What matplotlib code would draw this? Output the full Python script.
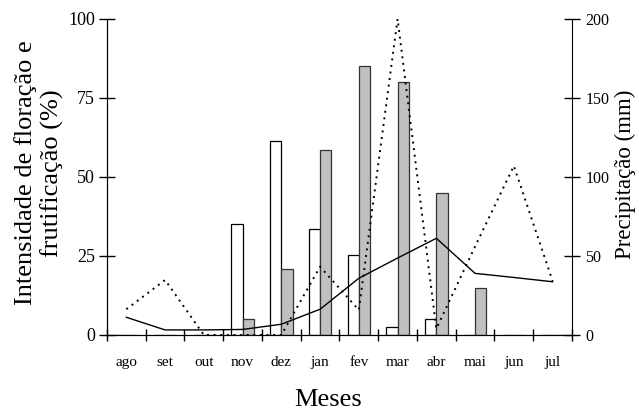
import numpy as np
import matplotlib.pyplot as plt

plt.rcParams['font.family'] = ['Liberation Serif', 'DejaVu Serif']

meses = ['ago', 'set', 'out', 'nov', 'dez', 'jan', 'fev', 'mar', 'abr', 'mai', 'jun', 'jul']
floracao = [0, 0, 0, 35, 61.5, 33.6, 25.2, 2.6, 5, 0, 0, 0]
frutificacao = [0, 0, 0, 5, 21, 58.7, 85.2, 80, 45, 15, 0, 0]
precip_linha = [11.2, 3.2, 3.2, 3.5, 6.8, 16.3, 35.9, 48.7, 61.2, 39, 36.4, 33.7]
precip_pontos = [16.3, 34.8, 0, 0, 0, 43.2, 15.8, 200, 4, 56, 107, 34.2]

fig = plt.figure(figsize=(6.39, 4.13), dpi=100, facecolor='w')
ax = fig.add_axes([0.1674, 0.1889, 0.7277, 0.7651])
ax2 = ax.twinx()

x = np.arange(len(meses)) + 0.5
w = 0.29
ax.bar(x - 0.145, floracao, w, color='white', edgecolor='black', lw=0.9)
ax.bar(x + 0.145, frutificacao, w, color='#c0c0c0', edgecolor='#333333', lw=0.9)

ax2.plot(x, precip_linha, color='black', lw=1)
ax2.plot(x, precip_pontos, color='black', lw=1.4, ls=(0, (1, 2.4)))

ax.set_xlim(0, 12)
ax.set_ylim(0, 100)
ax2.set_ylim(0, 200)
ax.set_yticks([0, 25, 50, 75, 100])
ax2.set_yticks([0, 50, 100, 150, 200])

ax.set_xticks(np.arange(0, 13))
ax.set_xticklabels([])
ax.set_xticks(x, minor=True)
ax.set_xticklabels(meses, minor=True, fontsize=11)
ax.tick_params(axis='x', which='major', direction='inout', length=9, width=1)
ax.tick_params(axis='x', which='minor', length=0, pad=15)
ax.tick_params(axis='y', direction='inout', length=11, width=1, labelsize=13, pad=3)
ax2.tick_params(axis='y', direction='inout', length=11, width=1, labelsize=11.5, pad=4)

for a in (ax, ax2):
    a.spines['top'].set_visible(False)
ax.spines['right'].set_visible(False)

fig.text(0.061, 0.581, 'Intensidade de floração e\nfrutificação (%)', rotation=90,
         ha='center', va='center', fontsize=19, linespacing=1.2)
fig.text(0.978, 0.579, 'Precipitação (mm)', rotation=90,
         ha='center', va='center', fontsize=16.5)
fig.text(0.513, 0.031, 'Meses', ha='center', va='center', fontsize=19)

plt.savefig('out.png', dpi=100)
